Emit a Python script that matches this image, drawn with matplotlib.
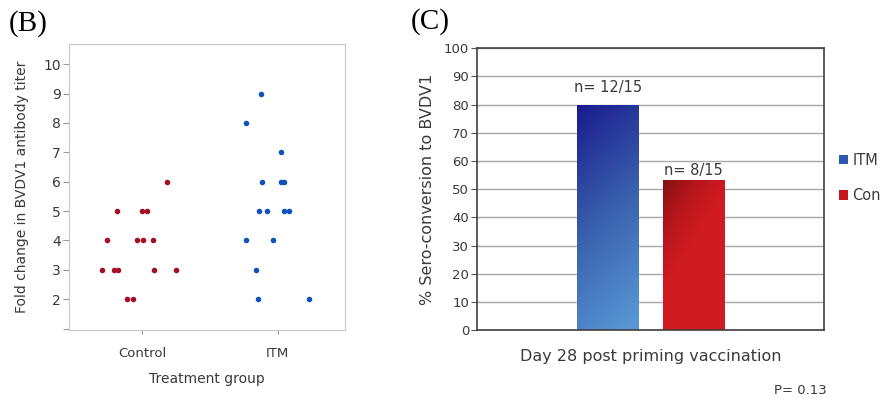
import numpy as np
import matplotlib.pyplot as plt
from matplotlib.patches import Rectangle, Patch
from matplotlib.colors import LinearSegmentedColormap

# panel B: fold change (x = jittered position)
control_x = [0.707, 0.791, 0.825, 1.088, 1.253,
             0.742, 0.963, 1.010, 1.079,
             0.818, 0.998, 1.035,
             1.187,
             0.889, 0.936]
control_y = [3, 3, 3, 3, 3,
             4, 4, 4, 4,
             5, 5, 5,
             6,
             2, 2]
itm_x = [1.877, 1.764, 2.024, 1.884, 2.024, 2.044,
         1.860, 1.923, 2.046, 2.086, 1.764, 1.968,
         1.842, 1.853, 2.231]
itm_y = [9, 8, 7, 6, 6, 6,
         5, 5, 5, 5, 4, 4,
         3, 2, 2]
group_names = ['Control', 'ITM']

# panel C: sero-conversion
bar_groups = ['ITM', 'Con']
sero_pct = [80, 53.3]
bar_labels = ['n= 12/15', 'n= 8/15']

plt.rcParams['font.family'] = ['DejaVu Sans']
txt = '#3a3a3a'

fig = plt.figure(figsize=(8.82, 3.99), dpi=100)

# ---------- (B) ----------
ax1 = fig.add_axes([0.0782, 0.1729, 0.3129, 0.7168])
ax1.scatter(control_x, control_y, s=16, color='#a50d25', zorder=3, linewidths=0)
ax1.scatter(itm_x, itm_y, s=16, color='#0f52bf', zorder=3, linewidths=0)
ax1.set_xlim(0.462, 2.496)
ax1.set_ylim(0.95, 10.69)
ax1.set_yticks(range(1, 11))
ax1.set_yticklabels([''] + [str(i) for i in range(2, 11)])
ax1.set_xticks([1, 2])
ax1.set_xticklabels(group_names)
ax1.tick_params(axis='y', length=4, color='#999999', labelsize=10, labelcolor=txt, pad=2)
ax1.tick_params(axis='x', length=3, color='#999999', labelsize=9.5, labelcolor=txt, pad=9)
for sp in ax1.spines.values():
    sp.set_color('#c8c8c8')
ax1.set_ylabel('Fold change in BVDV1 antibody titer', fontsize=10, color=txt, labelpad=10)
ax1.set_xlabel('Treatment group', fontsize=10, color=txt, labelpad=9)
fig.text(0.010, 0.94, '(B)', fontsize=21, family='Liberation Serif', va='center')

# ---------- (C) ----------
ax2 = fig.add_axes([0.5412, 0.1729, 0.3931, 0.7060])
ax2.set_xlim(-0.5, 0.5)
ax2.set_ylim(0, 100)
ax2.set_yticks(range(0, 101, 10))
ax2.set_xticks([])
ax2.yaxis.grid(True, color='#a8a8a8', linewidth=1)
ax2.set_axisbelow(True)
ax2.tick_params(axis='y', length=4, color='#555555', labelsize=9.5, labelcolor=txt, pad=2)
for sp in ax2.spines.values():
    sp.set_color('#404040')
    sp.set_linewidth(1.2)

cmaps = [LinearSegmentedColormap.from_list('b', ['#1a1a8e', '#3a62ae', '#5b9bd8']),
         LinearSegmentedColormap.from_list('r', ['#851010', '#b5161c', '#d01b21', '#d01b21'])]
pos = [-0.124, 0.124]
w = 0.176
label_offsets = [12, 7]
yy, xx = np.mgrid[0:1:200j, 0:1:200j]
for i, (p, v) in enumerate(zip(pos, sero_pct)):
    if i == 0:
        grad = 0.8 * yy + 0.2 * xx
    else:
        grad = np.clip((0.6 * yy + 0.4 * xx) * 1.5, 0, 1)
    rect = Rectangle((p - w / 2, 0), w, v, facecolor='none', edgecolor='none')
    ax2.add_patch(rect)
    im = ax2.imshow(grad, cmap=cmaps[i], extent=[p - w / 2, p + w / 2, 0, v],
                    aspect='auto', origin='upper', zorder=2)
    im.set_clip_path(rect)
    ax2.annotate(bar_labels[i], (p, v), xytext=(0, label_offsets[i]),
                 textcoords='offset points', ha='center', va='center',
                 fontsize=10.5, color=txt)

handles = [Patch(facecolor='#2c58ad', label=bar_groups[0]),
           Patch(facecolor='#c4161c', label=bar_groups[1])]
ax2.legend(handles=handles, loc='center left', bbox_to_anchor=(1.023, 0.54),
           frameon=False, borderpad=0, handlelength=0.6, handleheight=0.6,
           handletextpad=0.3, labelspacing=1.4, fontsize=10.5, labelcolor=txt)

ax2.set_ylabel('% Sero-conversion to BVDV1', fontsize=11.5, color=txt, labelpad=6)
ax2.set_xlabel('Day 28 post priming vaccination', fontsize=11.5, color=txt, labelpad=14)
fig.text(0.937, 0.022, 'P= 0.13', fontsize=9.5, color=txt, ha='right', va='center')
fig.text(0.466, 0.945, '(C)', fontsize=21, family='Liberation Serif', va='center')

fig.savefig('out.png', dpi=100)
